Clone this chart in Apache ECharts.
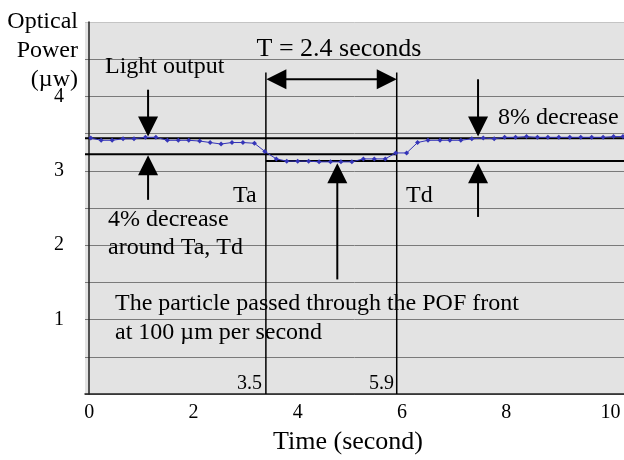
<!DOCTYPE html>
<html><head><meta charset="utf-8">
<script src="https://cdn.jsdelivr.net/npm/echarts@6/dist/echarts.min.js"></script>
<style>html,body{margin:0;padding:0;background:#fff}#c{width:624px;height:460px}</style>
</head><body><div id="c"></div>
<script>
// ---- data ----
const timeSec = [0.03,0.23,0.44,0.65,0.86,1.08,1.28,1.50,1.71,1.91,
                 2.12,2.32,2.53,2.74,2.95,3.17,3.37,3.59,3.79,4.00,
                 4.21,4.41,4.63,4.83,5.04,5.26,5.47,5.68,5.88,6.09,
                 6.30,6.50,6.73,6.92,7.13,7.34,7.56,7.77,7.97,8.18,
                 8.39,8.60,8.80,9.01,9.22,9.43,9.64,9.86,10.06,10.24];
const powerUw = [3.44,3.41,3.41,3.43,3.43,3.45,3.45,3.41,3.41,3.41,
                 3.40,3.38,3.36,3.38,3.38,3.37,3.26,3.16,3.13,3.13,
                 3.13,3.12,3.12,3.12,3.12,3.16,3.16,3.16,3.24,3.24,
                 3.38,3.41,3.41,3.41,3.41,3.43,3.44,3.43,3.45,3.45,
                 3.46,3.45,3.45,3.45,3.45,3.45,3.45,3.45,3.46,3.46];
const xTickLabels = [0,2,4,6,8,10];
const yTickLabels = [1,2,3,4];
// annotation geometry in data units: [x1, y1, x2, y2]
const levelLines = [[-0.08,3.436,10.26,3.436],[-0.08,3.222,5.90,3.222],[3.39,3.132,10.26,3.132]];
const eventLines = [[3.39,0,3.39,4.32],[5.90,0,5.90,4.32]];
const singleArrows = [[1.13,4.09,1.13,3.46],[1.13,2.61,1.13,3.21],[4.76,1.54,4.76,3.10],[7.46,4.23,7.46,3.46],[7.46,2.38,7.46,3.10]];
const doubleArrows = [[3.40,4.23,5.90,4.23]];

const serif = '"Liberation Serif","Times New Roman",serif';
const annData = [];
levelLines.forEach(d => annData.push(d.concat([0, 2])));
eventLines.forEach(d => annData.push(d.concat([0, 1.5])));
singleArrows.forEach(d => annData.push(d.concat([1, 2])));
doubleArrows.forEach(d => annData.push(d.concat([2, 2])));

function renderAnn(params, api) {
  const p1 = api.coord([api.value(0), api.value(1)]);
  const p2 = api.coord([api.value(2), api.value(3)]);
  const heads = api.value(4), w = api.value(5);
  const HL = 20, HW = 10;
  const dx = p2[0]-p1[0], dy = p2[1]-p1[1], L = Math.hypot(dx, dy) || 1;
  const ux = dx/L, uy = dy/L;
  let a = p1.slice(), b = p2.slice();
  const kids = [];
  function head(tip, sx, sy) {
    const bx = tip[0]-sx*HL, by = tip[1]-sy*HL;
    return {type:'polygon', shape:{points:[[tip[0],tip[1]],[bx-sy*HW,by+sx*HW],[bx+sy*HW,by-sx*HW]]}, style:{fill:'#000'}};
  }
  if (heads >= 1) { kids.push(head(p2, ux, uy)); b = [p2[0]-ux*(HL-2), p2[1]-uy*(HL-2)]; }
  if (heads >= 2) { kids.push(head(p1, -ux, -uy)); a = [p1[0]+ux*(HL-2), p1[1]+uy*(HL-2)]; }
  kids.unshift({type:'line', shape:{x1:a[0],y1:a[1],x2:b[0],y2:b[1]}, style:{stroke:'#000', lineWidth:w}});
  return {type:'group', children:kids};
}

const splitColors = [];
for (let i = 0; i < 10; i++) splitColors.push('#7a7a7a');
splitColors.push('#c4c4c4');

function txt(text, x, y, size, align) {
  return {type:'text', z:1, style:{text:text, x:x, y:y, font:size+'px '+serif, fill:'#000', align:align||'left', verticalAlign:'middle'}};
}

const chart = echarts.init(document.getElementById('c'));
chart.setOption({
  animation:false,
  grid:{left:85, right:0, top:22, bottom:66, show:true, backgroundColor:'#e3e3e3', borderWidth:0},
  xAxis:{type:'value', min:-0.08, max:10.26,
    axisLine:{show:true, lineStyle:{color:'#222', width:1.5}}, axisTick:{show:false}, splitLine:{show:false},
    axisLabel:{customValues:xTickLabels, fontSize:20, fontFamily:serif, color:'#000', margin:9}},
  yAxis:{type:'value', min:0, max:5, interval:0.5,
    axisLine:{show:true, lineStyle:{color:'#222', width:1.5}}, axisTick:{show:false},
    splitLine:{show:true, lineStyle:{color:splitColors, width:1}},
    axisLabel:{fontSize:20, fontFamily:serif, color:'#000', margin:21,
      formatter:v => yTickLabels.indexOf(v) >= 0 ? String(v) : ''}},
  series:[
    {type:'custom', renderItem:renderAnn, data:annData, z:3, silent:true, clip:false},
    {type:'line', data:timeSec.map((t,i)=>[t, powerUw[i]]), z:4, symbol:'diamond', symbolSize:5,
     itemStyle:{color:'#3535b8'}, lineStyle:{color:'#3535b8', width:1}}
  ],
  graphic:[
    {type:'text', z:1, style:{text:'Optical\nPower\n(µw)', x:78, y:7, font:'24px '+serif, lineHeight:29, fill:'#000', align:'right', verticalAlign:'top'}},
    txt('T = 2.4 seconds', 339, 49, 26, 'center'),
    txt('Light output', 105, 67, 24),
    txt('Ta', 233, 196, 24),
    txt('Td', 406, 196, 24),
    txt('4% decrease', 108, 220, 24),
    txt('around Ta, Td', 108, 248, 24),
    txt('8% decrease', 498, 118, 24),
    txt('The particle passed through the POF front', 115, 304, 24),
    txt('at 100 µm per second', 115, 333, 24),
    txt('3.5', 262, 384, 20, 'right'),
    txt('5.9', 394, 384, 20, 'right'),
    txt('Time (second)', 348, 442, 26, 'center')
  ]
});
</script></body></html>
